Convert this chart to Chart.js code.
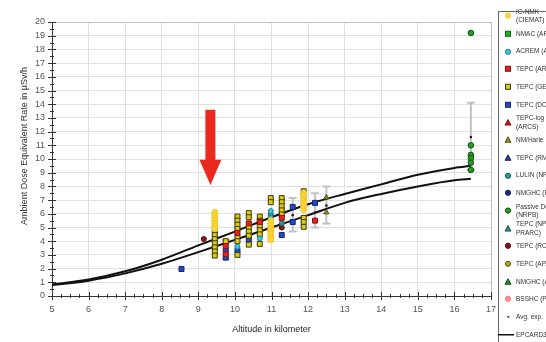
<!DOCTYPE html>
<html>
<head>
<meta charset="utf-8">
<title>Ambient dose equivalent rate vs altitude</title>
<script src="https://cdn.jsdelivr.net/npm/chart.js@4.4.1/dist/chart.umd.min.js"></script>
<style>
  html, body { margin: 0; padding: 0; background: #fff; overflow: hidden; }
  #wrap { position: relative; width: 546px; height: 342px; overflow: hidden; }
  #doseChart { position: absolute; left: 0; top: 0; }
  #legend {
    position: absolute; left: 498px; top: 11px; width: 90px; height: 360px;
    border: 1px solid #666; background: #fff;
    font: 6.5px 'Liberation Sans', Arial, sans-serif; color: #333;
  }
  #legend .item { position: absolute; left: 0; width: 100%; transform: translateY(-50%); }
  #legend svg { position: absolute; left: 5px; top: 50%; margin-top: -4px; }
  #legend .txt { margin-left: 17px; white-space: pre; line-height: 1.3; }
</style>
</head>
<body>
<div id="wrap">
  <canvas id="doseChart" width="546" height="342"></canvas>
  <div id="legend"></div>
</div>
<script>
// measurements per instrument, [altitude km, dose rate µSv/h]
const icNmk = [
  [9.45, 6.1], [9.45, 5.9], [9.45, 5.7], [9.45, 5.5], [9.45, 5.3], [9.45, 5.1], [9.45, 4.9],
  [10.98, 5.5], [10.98, 5.3], [10.98, 5.1], [10.98, 4.9], [10.98, 4.7], [10.98, 4.5], [10.98, 4.3], [10.98, 4.1],
  [11.88, 7.5], [11.88, 7.3], [11.88, 7.1], [11.88, 6.9], [11.88, 6.7], [11.88, 6.5], [11.88, 6.3]
];
const nmacArcs = [];
const acremArcs = [[10.07, 3.6], [10.68, 4.2], [10.98, 6.2], [10.98, 5.7]];
const tepcArcs = [[9.75, 3.65], [9.75, 3.05], [10.07, 4.6], [10.38, 5.3], [10.68, 5.4], [10.98, 4.8], [11.28, 5.7], [12.19, 5.5]];
const tepcGem = [
  [9.45, 4.75], [9.45, 4.45], [9.45, 4.15], [9.45, 3.85], [9.45, 3.55], [9.45, 3.25], [9.45, 2.95],
  [9.75, 4.0],
  [10.07, 5.8], [10.07, 5.5], [10.07, 5.2], [10.07, 4.9], [10.07, 4.3], [10.07, 4.0], [10.07, 3.0],
  [10.38, 6.05], [10.38, 5.75], [10.38, 5.0], [10.38, 4.7], [10.38, 4.4], [10.38, 3.75],
  [10.68, 5.8], [10.68, 5.5], [10.68, 5.1], [10.68, 4.8], [10.68, 4.5], [10.68, 3.8],
  [10.98, 7.15], [10.98, 6.85],
  [11.28, 7.15], [11.28, 6.85], [11.28, 6.55], [11.28, 6.25], [11.28, 5.95],
  [11.88, 7.65], [11.88, 7.35], [11.88, 5.7], [11.88, 5.4], [11.88, 5.05]
];
const tepcDos = [[8.54, 1.97], [9.75, 3.3], [9.75, 2.8], [10.07, 3.3], [10.38, 4.1], [11.28, 4.45], [11.58, 6.5], [11.58, 5.4], [12.19, 6.8]];
const tepcLogArcs = [];
const nmHarle = [[12.5, 7.2], [12.5, 6.1]];
const tepcRmi = [];
const lulinNpi = [[10.98, 5.95], [11.28, 5.3]];
const nmghcPtb = [[10.38, 4.6]];
const passiveNrpb = [[16.45, 19.2], [16.45, 11.0], [16.45, 10.3], [16.45, 10.05], [16.45, 9.73], [16.45, 9.2]];
const tepcNpl = [];
const tepcRcm = [[9.15, 4.16], [10.07, 4.9], [11.28, 5.0]];
const tepcApa = [];
const nmghcArcs = [];
const bsshcPtb = [];

// averaged experimental values with their spread
const avgAlt = [9.75, 11.58, 12.19, 12.5, 16.45];
const avgDose = [3.4, 5.9, 6.1, 6.6, 11.6];
const avgLow = [2.7, 4.7, 5.0, 5.3, 9.2];
const avgHigh = [4.1, 7.15, 7.5, 8.0, 14.1];

// EPCARD model curves
const epcardAlt = [5, 6, 7, 8, 9, 10, 11, 12, 13, 14, 15, 16, 16.45];
const epcardUpper = [0.85, 1.2, 1.8, 2.65, 3.7, 4.7, 5.75, 6.7, 7.45, 8.15, 8.85, 9.35, 9.5];
const epcardLower = [0.8, 1.12, 1.65, 2.35, 3.2, 4.1, 5.0, 5.9, 6.8, 7.45, 8.0, 8.45, 8.55];

// arrow marking the FL310 column
const arrowAlt = 9.33;
const arrowFrom = 13.6;
const arrowHead = 9.95;
const arrowTo = 8.1;

const series = [
  { label: 'IC-NMK\n(CIEMAT)', data: icNmk, shape: 'circle', fill: '#f9d640', stroke: '#f2c72a', r: 3 },
  { label: 'NMAC (ARCS)', data: nmacArcs, shape: 'rect', fill: '#22b022', stroke: '#116611', r: 3.5 },
  { label: 'ACREM (ARCS)', data: acremArcs, shape: 'circle', fill: '#3cc6df', stroke: '#1b7f95', r: 2.5 },
  { label: 'TEPC (ARCS)', data: tepcArcs, shape: 'rect', fill: '#e42222', stroke: '#8a1010', r: 3.5 },
  { label: 'TEPC (GEM)', data: tepcGem, shape: 'rect', fill: '#d9cc12', stroke: '#3c3a08', r: 3.5 },
  { label: 'TEPC (DOS)', data: tepcDos, shape: 'rect', fill: '#2448c8', stroke: '#122470', r: 3.5 },
  { label: 'TEPC-log\n(ARCS)', data: tepcLogArcs, shape: 'triangle', fill: '#c42020', stroke: '#801010', r: 3 },
  { label: 'NM/Harle', data: nmHarle, shape: 'triangle', fill: '#8f8f2a', stroke: '#55551a', r: 3 },
  { label: 'TEPC (RMI)', data: tepcRmi, shape: 'triangle', fill: '#333d99', stroke: '#1a2060', r: 3 },
  { label: 'LULIN (NPI)', data: lulinNpi, shape: 'circle', fill: '#2a9c9c', stroke: '#165858', r: 2.5 },
  { label: 'NMGHC (PTB)', data: nmghcPtb, shape: 'circle', fill: '#1e2c88', stroke: '#101850', r: 2.5 },
  { label: 'Passive Dos\n(NRPB)', data: passiveNrpb, shape: 'circle', fill: '#22a022', stroke: '#0f4d0f', r: 2.8 },
  { label: 'TEPC (NPL\nPRARC)', data: tepcNpl, shape: 'triangle', fill: '#3a8c8c', stroke: '#1d4f4f', r: 3 },
  { label: 'TEPC (RCM)', data: tepcRcm, shape: 'circle', fill: '#8c1414', stroke: '#4a0a0a', r: 2.5 },
  { label: 'TEPC (APA)', data: tepcApa, shape: 'circle', fill: '#a6a622', stroke: '#5a5a10', r: 2.5 },
  { label: 'NMGHC (ARCS)', data: nmghcArcs, shape: 'triangle', fill: '#2c8c2c', stroke: '#144a14', r: 3 },
  { label: 'BSSHC (PTB)', data: bsshcPtb, shape: 'circle', fill: '#ff8f8f', stroke: '#ff7070', r: 2.5 }
];

const toPoints = (arr) => arr.map(([x, y]) => ({ x, y }));

const datasets = series.map((s) => ({
  label: s.label,
  data: toPoints(s.data),
  pointStyle: s.shape,
  pointRadius: s.r,
  pointBackgroundColor: s.fill,
  pointBorderColor: s.stroke,
  pointBorderWidth: 1,
  showLine: false
}));

datasets.push({
  label: 'Avg. exp.',
  data: avgAlt.map((a, i) => ({ x: a, y: avgDose[i] })),
  pointStyle: 'circle',
  pointRadius: 1.3,
  pointBackgroundColor: '#222',
  pointBorderColor: '#222',
  pointBorderWidth: 0,
  showLine: false
});

[epcardUpper, epcardLower].forEach((curve, k) => {
  datasets.push({
    label: k === 0 ? 'EPCARD3.2' : 'EPCARD3.2 (lower)',
    data: epcardAlt.map((a, i) => ({ x: a, y: curve[i] })),
    showLine: true,
    borderColor: '#111',
    borderWidth: 2,
    pointRadius: 0,
    cubicInterpolationMode: 'monotone',
    fill: false
  });
});

// grey spread bars behind the averaged values
const errorBars = {
  id: 'errorBars',
  beforeDatasetsDraw(chart) {
    const { ctx, scales: { x, y } } = chart;
    ctx.save();
    ctx.strokeStyle = '#c2c2c2';
    ctx.lineWidth = 2;
    avgAlt.forEach((a, i) => {
      const px = x.getPixelForValue(a);
      const top = y.getPixelForValue(avgHigh[i]);
      const bot = y.getPixelForValue(avgLow[i]);
      ctx.beginPath();
      ctx.moveTo(px, top); ctx.lineTo(px, bot);
      ctx.moveTo(px - 4, top); ctx.lineTo(px + 4, top);
      ctx.moveTo(px - 4, bot); ctx.lineTo(px + 4, bot);
      ctx.stroke();
    });
    ctx.restore();
  }
};

// tick marks crossing both axes, with minor steps
const axisTicks = {
  id: 'axisTicks',
  afterDraw(chart) {
    const { ctx, chartArea, scales: { x, y } } = chart;
    ctx.save();
    ctx.strokeStyle = '#333';
    ctx.lineWidth = 1;
    ctx.beginPath();
    for (let v = x.min; v <= x.max + 1e-6; v += 0.25) {
      const px = Math.round(x.getPixelForValue(v)) + 0.5;
      const h = Math.abs(v - Math.round(v)) < 1e-6 ? 4 : 2;
      ctx.moveTo(px, chartArea.bottom - h);
      ctx.lineTo(px, chartArea.bottom + h);
    }
    for (let v = y.min; v <= y.max + 1e-6; v += 0.5) {
      const py = Math.round(y.getPixelForValue(v)) + 0.5;
      const w = Math.abs(v - Math.round(v)) < 1e-6 ? 4 : 2;
      ctx.moveTo(chartArea.left - w, py);
      ctx.lineTo(chartArea.left + w, py);
    }
    ctx.stroke();

    // y axis title
    ctx.fillStyle = '#333';
    ctx.font = "9px 'Liberation Sans', Arial, sans-serif";
    ctx.textAlign = 'center';
    ctx.textBaseline = 'middle';
    ctx.translate(25, (chartArea.top + chartArea.bottom) / 2 - 13);
    ctx.rotate(-Math.PI / 2);
    ctx.fillText('Ambient Dose Equivalent Rate in µSv/h', 0, 0);
    ctx.restore();
  }
};

// red arrow pointing at the 9.45 km column
const redArrow = {
  id: 'redArrow',
  afterDatasetsDraw(chart) {
    const { ctx, scales: { x, y } } = chart;
    const cx = x.getPixelForValue(arrowAlt);
    const y0 = y.getPixelForValue(arrowFrom);
    const y1 = y.getPixelForValue(arrowHead);
    const y2 = y.getPixelForValue(arrowTo);
    ctx.save();
    ctx.fillStyle = '#ea2a1e';
    ctx.beginPath();
    ctx.moveTo(cx - 5, y0);
    ctx.lineTo(cx + 5, y0);
    ctx.lineTo(cx + 5, y1);
    ctx.lineTo(cx + 11, y1);
    ctx.lineTo(cx, y2);
    ctx.lineTo(cx - 11, y1);
    ctx.lineTo(cx - 5, y1);
    ctx.closePath();
    ctx.fill();
    ctx.restore();
  }
};

const tickFont = { family: "'Liberation Sans', Arial, sans-serif", size: 9 };

new Chart(document.getElementById('doseChart'), {
  type: 'scatter',
  data: { datasets },
  options: {
    responsive: false,
    animation: false,
    layout: { padding: { top: 22, right: 55, left: 0, bottom: 0 } },
    plugins: { legend: { display: false }, tooltip: { enabled: false } },
    scales: {
      x: {
        type: 'linear',
        min: 5,
        max: 17,
        afterFit: (scale) => { scale.height = 46; },
        ticks: { stepSize: 1, color: '#555', font: tickFont, padding: 8 },
        grid: {
          color: (c) => (c.tick && c.tick.value === 17 ? '#bdbdbd' : '#e0e0e0'),
          drawTicks: false
        },
        border: { color: '#333', width: 1 },
        title: {
          display: true,
          text: 'Altitude in kilometer',
          color: '#222',
          font: tickFont,
          padding: { top: 0, bottom: 7 }
        }
      },
      y: {
        min: 0,
        max: 20,
        afterFit: (scale) => { scale.width = 52; },
        ticks: { stepSize: 1, color: '#555', font: tickFont, padding: 7, autoSkip: false },
        grid: {
          color: (c) => (c.tick && c.tick.value === 20 ? '#bdbdbd' : '#e0e0e0'),
          drawTicks: false
        },
        border: { color: '#333', width: 1 }
      }
    }
  },
  plugins: [errorBars, axisTicks, redArrow]
});

// legend box on the right
const legendEl = document.getElementById('legend');
const legendRows = series.map((s) => ({ label: s.label, shape: s.shape, fill: s.fill, stroke: s.stroke }));
legendRows.push({ label: 'Avg. exp.', shape: 'dot' });
legendRows.push({ label: 'EPCARD3.2', shape: 'line' });

const markerSvg = (row) => {
  const a = `fill="${row.fill}" stroke="${row.stroke}" stroke-width="1"`;
  if (row.shape === 'rect') return `<svg width="8" height="8"><rect x="1.5" y="1.5" width="5" height="5" ${a}/></svg>`;
  if (row.shape === 'circle') return `<svg width="8" height="8"><circle cx="4" cy="4" r="2.6" ${a}/></svg>`;
  if (row.shape === 'triangle') return `<svg width="8" height="8"><polygon points="4,1 7,6.5 1,6.5" ${a}/></svg>`;
  if (row.shape === 'dot') return `<svg width="8" height="8"><rect x="3" y="3.5" width="2.5" height="1.2" fill="#222"/></svg>`;
  return `<svg width="16" height="8" style="left:-1px"><line x1="0" y1="4" x2="16" y2="4" stroke="#111" stroke-width="1.5"/></svg>`;
};

legendRows.forEach((row, i) => {
  const div = document.createElement('div');
  div.className = 'item';
  div.style.top = (4 + i * 17.7) + 'px';
  div.innerHTML = markerSvg(row) + `<div class="txt">${row.label}</div>`;
  legendEl.appendChild(div);
});
</script>
</body>
</html>
